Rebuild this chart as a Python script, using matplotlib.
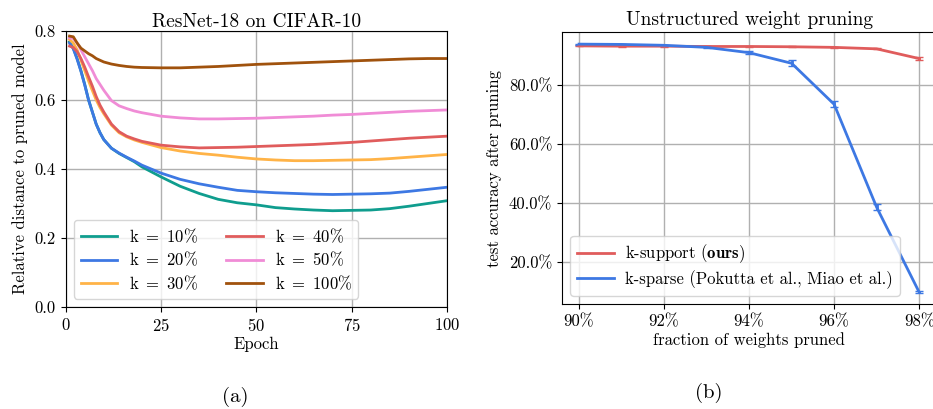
import matplotlib
matplotlib.use("Agg")
import matplotlib.pyplot as plt
from matplotlib.lines import Line2D

plt.rcParams['font.family'] = ['cmr10', 'DejaVu Serif']
plt.rcParams['mathtext.fontset'] = 'cm'
plt.rcParams['axes.unicode_minus'] = False
plt.rcParams['axes.formatter.use_mathtext'] = True

# (a) relative distance to pruned model
epochs = [1, 2, 3, 4, 5, 6, 7, 8, 9, 10, 12, 14, 16, 18, 20, 25, 30, 35, 40, 45,
          50, 55, 60, 65, 70, 75, 80, 85, 90, 95, 100]
k10 = [0.768, 0.750, 0.720, 0.685, 0.645, 0.600, 0.565, 0.530, 0.505, 0.485, 0.460,
       0.445, 0.433, 0.421, 0.406, 0.377, 0.350, 0.329, 0.312, 0.302,
       0.296, 0.288, 0.284, 0.281, 0.279, 0.280, 0.281, 0.285, 0.292, 0.300, 0.308]
k20 = [0.765, 0.748, 0.718, 0.683, 0.643, 0.600, 0.565, 0.530, 0.505, 0.485, 0.460,
       0.446, 0.434, 0.423, 0.411, 0.388, 0.370, 0.357, 0.347, 0.338,
       0.334, 0.331, 0.329, 0.327, 0.326, 0.327, 0.328, 0.330, 0.335, 0.341, 0.347]
k30 = [0.775, 0.765, 0.745, 0.715, 0.685, 0.655, 0.627, 0.600, 0.578, 0.560, 0.527,
       0.505, 0.493, 0.484, 0.477, 0.462, 0.452, 0.445, 0.440, 0.434,
       0.429, 0.426, 0.424, 0.424, 0.425, 0.426, 0.427, 0.430, 0.434, 0.438, 0.442]
k40 = [0.756, 0.752, 0.740, 0.720, 0.695, 0.667, 0.640, 0.610, 0.585, 0.565, 0.530,
       0.508, 0.495, 0.487, 0.480, 0.469, 0.464, 0.461, 0.462, 0.463,
       0.465, 0.467, 0.469, 0.471, 0.474, 0.477, 0.481, 0.485, 0.489, 0.492, 0.495]
k50 = [0.780, 0.778, 0.765, 0.745, 0.725, 0.705, 0.685, 0.662, 0.645, 0.628, 0.598,
       0.583, 0.575, 0.568, 0.563, 0.553, 0.548, 0.545, 0.545, 0.546,
       0.547, 0.549, 0.551, 0.553, 0.556, 0.558, 0.561, 0.564, 0.567, 0.569, 0.571]
k100 = [0.785, 0.783, 0.765, 0.750, 0.742, 0.734, 0.728, 0.720, 0.715, 0.710, 0.704,
        0.700, 0.697, 0.695, 0.694, 0.693, 0.693, 0.695, 0.697, 0.700,
        0.703, 0.705, 0.707, 0.709, 0.711, 0.713, 0.715, 0.717, 0.719, 0.720, 0.720]
k_values = ['10', '20', '30', '40', '50', '100']
k_colors = ['#0f9d8e', '#3d78e3', '#ffb347', '#e05c5c', '#f08cd6', '#a0520d']

# (b) test accuracy after pruning (%)
fraction = [90, 91, 92, 93, 94, 95, 96, 97, 98]
ksupport = [93.3, 93.2, 93.2, 93.1, 93.1, 93.0, 92.8, 92.3, 89.0]
ksupport_err = [0.2, 0.2, 0.2, 0.2, 0.2, 0.2, 0.2, 0.2, 0.5]
ksparse = [93.9, 93.8, 93.5, 92.8, 91.0, 87.4, 73.5, 38.6, 9.8]
ksparse_err = [0.2, 0.2, 0.2, 0.3, 0.6, 1.0, 1.0, 1.0, 0.3]
b_labels = [r'k-support ($\mathbf{ours}$)', 'k-sparse (Pokutta et al., Miao et al.)']
b_colors = ['#e05c5c', '#3d78e3']

fig = plt.figure(figsize=(9.33, 4.09), dpi=100)
ax1 = fig.add_axes([0.0704, 0.2494, 0.4087, 0.675])
ax2 = fig.add_axes([0.6024, 0.2567, 0.401, 0.665])

for series, kv, col in zip([k10, k20, k30, k40, k50, k100], k_values, k_colors):
    ax1.plot(epochs, series, color=col, lw=2,
             label=r'$\mathrm{k}\ =\ ' + kv + r'\%$')
ax1.set_xlim(0, 100)
ax1.set_ylim(0, 0.8)
ax1.set_xticks([0, 25, 50, 75, 100])
ax1.set_yticks([0.0, 0.2, 0.4, 0.6, 0.8])
ax1.yaxis.set_major_formatter(matplotlib.ticker.FormatStrFormatter('%.1f'))
ax1.grid(True, color='#b0b0b0', lw=1)
ax1.set_axisbelow(True)
ax1.set_title('ResNet-18 on CIFAR-10', fontsize=14, pad=3)
ax1.set_xlabel('Epoch', fontsize=12, labelpad=2)
ax1.set_ylabel('Relative distance to pruned model', fontsize=12, labelpad=5)
ax1.tick_params(labelsize=12)
ax1.legend(ncol=2, loc='lower left', fontsize=12, handlelength=2.2,
           columnspacing=1.7, handletextpad=0.7, labelspacing=0.3,
           borderaxespad=0.5)

ax2.errorbar(fraction, ksupport, yerr=ksupport_err, color=b_colors[0], lw=2, capsize=3)
ax2.errorbar(fraction, ksparse, yerr=ksparse_err, color=b_colors[1], lw=2, capsize=3)
ax2.set_xlim(89.6, 98.4)
ax2.set_ylim(5.8, 98)
ax2.set_xticks([90, 92, 94, 96, 98])
ax2.set_xticklabels(['90%', '92%', '94%', '96%', '98%'])
ax2.set_yticks([20, 40, 60, 80])
ax2.set_yticklabels(['20.0%', '40.0%', '60.0%', '80.0%'])
ax2.grid(True, color='#b0b0b0', lw=1)
ax2.set_axisbelow(True)
ax2.set_title('Unstructured weight pruning', fontsize=14, pad=5)
ax2.set_xlabel('fraction of weights pruned', fontsize=12, labelpad=2)
ax2.set_ylabel('test accuracy after pruning', fontsize=12, labelpad=5)
ax2.tick_params(labelsize=12)
handles = [Line2D([], [], color=c, lw=2) for c in b_colors]
ax2.legend(handles, b_labels, loc='lower left', fontsize=12, handlelength=2.2,
           handletextpad=0.7, labelspacing=0.3, borderaxespad=0.5)

fig.text(235 / 933, 1 - 397 / 409, '(a)', fontsize=15, ha='center', va='center')
fig.text(709 / 933, 1 - 393 / 409, '(b)', fontsize=15, ha='center', va='center')

fig.savefig('out.png', dpi=100)
